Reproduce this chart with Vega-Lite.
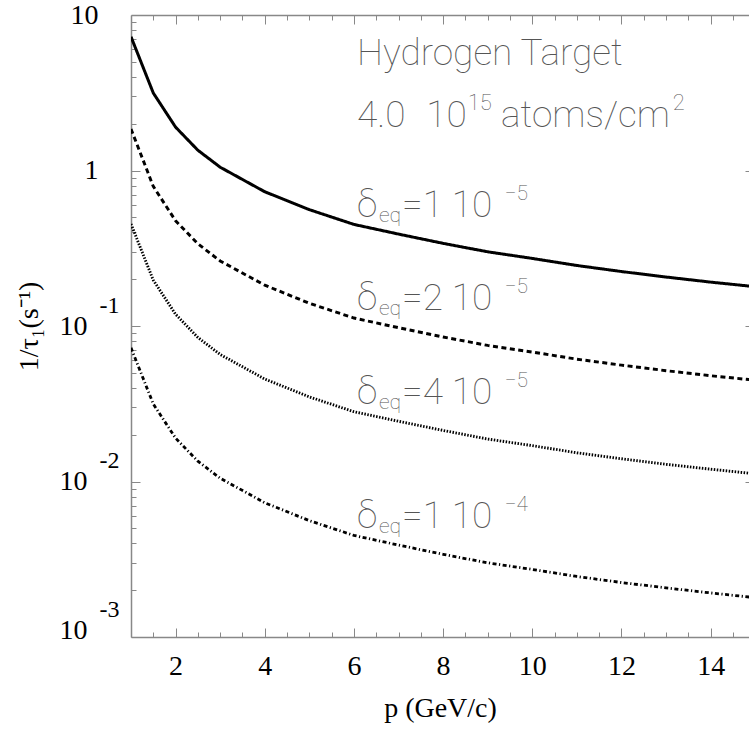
{
  "$schema": "https://vega.github.io/schema/vega-lite/v6.json",
  "width": 618,
  "height": 622,
  "autosize": "none",
  "padding": {"left": 131, "top": 15, "right": 0, "bottom": 95},
  "background": "white",
  "config": {
    "view": {"stroke": null},
    "axis": {
      "grid": false,
      "domainColor": "#888",
      "domainWidth": 1.5,
      "tickColor": "#888",
      "tickWidth": 1,
      "labelFont": "Liberation Serif",
      "titleFont": "Liberation Serif",
      "labelColor": "black",
      "titleColor": "black",
      "labelFontSize": 28,
      "titleFontSize": 28,
      "titleFontWeight": "normal",
      "labelOverlap": false,
      "labelFlush": false,
      "labelBound": false
    }
  },
  "datasets": {
    "curves": [
      {"p": 1, "d": "1e-5", "v": 7.25}, {"p": 1.5, "d": "1e-5", "v": 3.15}, {"p": 2, "d": "1e-5", "v": 1.9},
      {"p": 2.5, "d": "1e-5", "v": 1.35}, {"p": 3, "d": "1e-5", "v": 1.05}, {"p": 4, "d": "1e-5", "v": 0.73},
      {"p": 5, "d": "1e-5", "v": 0.56}, {"p": 6, "d": "1e-5", "v": 0.45}, {"p": 7, "d": "1e-5", "v": 0.39},
      {"p": 8, "d": "1e-5", "v": 0.34}, {"p": 9, "d": "1e-5", "v": 0.3}, {"p": 10, "d": "1e-5", "v": 0.272},
      {"p": 11, "d": "1e-5", "v": 0.245}, {"p": 12, "d": "1e-5", "v": 0.224}, {"p": 13, "d": "1e-5", "v": 0.2065},
      {"p": 14, "d": "1e-5", "v": 0.1915}, {"p": 15, "d": "1e-5", "v": 0.179},

      {"p": 1, "d": "2e-5", "v": 1.85}, {"p": 1.5, "d": "2e-5", "v": 0.79}, {"p": 2, "d": "2e-5", "v": 0.475},
      {"p": 2.5, "d": "2e-5", "v": 0.338}, {"p": 3, "d": "2e-5", "v": 0.262}, {"p": 4, "d": "2e-5", "v": 0.183},
      {"p": 5, "d": "2e-5", "v": 0.14}, {"p": 6, "d": "2e-5", "v": 0.1125}, {"p": 7, "d": "2e-5", "v": 0.0975},
      {"p": 8, "d": "2e-5", "v": 0.085}, {"p": 9, "d": "2e-5", "v": 0.075}, {"p": 10, "d": "2e-5", "v": 0.068},
      {"p": 11, "d": "2e-5", "v": 0.0612}, {"p": 12, "d": "2e-5", "v": 0.056}, {"p": 13, "d": "2e-5", "v": 0.0516},
      {"p": 14, "d": "2e-5", "v": 0.0479}, {"p": 15, "d": "2e-5", "v": 0.0448},

      {"p": 1, "d": "4e-5", "v": 0.453}, {"p": 1.5, "d": "4e-5", "v": 0.197}, {"p": 2, "d": "4e-5", "v": 0.119},
      {"p": 2.5, "d": "4e-5", "v": 0.0844}, {"p": 3, "d": "4e-5", "v": 0.0656}, {"p": 4, "d": "4e-5", "v": 0.0456},
      {"p": 5, "d": "4e-5", "v": 0.035}, {"p": 6, "d": "4e-5", "v": 0.0281}, {"p": 7, "d": "4e-5", "v": 0.0244},
      {"p": 8, "d": "4e-5", "v": 0.0213}, {"p": 9, "d": "4e-5", "v": 0.01875}, {"p": 10, "d": "4e-5", "v": 0.017},
      {"p": 11, "d": "4e-5", "v": 0.0153}, {"p": 12, "d": "4e-5", "v": 0.014}, {"p": 13, "d": "4e-5", "v": 0.0129},
      {"p": 14, "d": "4e-5", "v": 0.012}, {"p": 15, "d": "4e-5", "v": 0.0112},

      {"p": 1, "d": "1e-4", "v": 0.0725}, {"p": 1.5, "d": "1e-4", "v": 0.0315}, {"p": 2, "d": "1e-4", "v": 0.019},
      {"p": 2.5, "d": "1e-4", "v": 0.0135}, {"p": 3, "d": "1e-4", "v": 0.0105}, {"p": 4, "d": "1e-4", "v": 0.0073},
      {"p": 5, "d": "1e-4", "v": 0.0056}, {"p": 6, "d": "1e-4", "v": 0.0045}, {"p": 7, "d": "1e-4", "v": 0.0039},
      {"p": 8, "d": "1e-4", "v": 0.0034}, {"p": 9, "d": "1e-4", "v": 0.003}, {"p": 10, "d": "1e-4", "v": 0.00272},
      {"p": 11, "d": "1e-4", "v": 0.00245}, {"p": 12, "d": "1e-4", "v": 0.00224}, {"p": 13, "d": "1e-4", "v": 0.00207},
      {"p": 14, "d": "1e-4", "v": 0.00192}, {"p": 15, "d": "1e-4", "v": 0.00179}
    ],
    "heading": [
      {"p": 6.07, "v": 4.77, "txt": "Hydrogen Target"},
      {"p": 6.07, "v": 1.905, "txt": "4.0"},
      {"p": 7.62, "v": 1.905, "txt": "10"},
      {"p": 9.3, "v": 1.905, "txt": "atoms/cm"}
    ],
    "headingScripts": [
      {"p": 8.55, "v": 2.449, "txt": "15"},
      {"p": 13.15, "v": 2.449, "txt": "2"}
    ],
    "deltas": [
      {"p": 6.07, "v": 0.502, "txt": "δ"}, {"p": 7.08, "v": 0.502, "txt": "=1 10"},
      {"p": 6.07, "v": 0.1267, "txt": "δ"}, {"p": 7.08, "v": 0.1267, "txt": "=2 10"},
      {"p": 6.07, "v": 0.0315, "txt": "δ"}, {"p": 7.08, "v": 0.0315, "txt": "=4 10"},
      {"p": 6.07, "v": 0.00502, "txt": "δ"}, {"p": 7.08, "v": 0.00502, "txt": "=1 10"}
    ],
    "deltaScripts": [
      {"p": 6.56, "v": 0.4665, "txt": "eq"}, {"p": 9.38, "v": 0.646, "txt": "−5"},
      {"p": 6.56, "v": 0.1178, "txt": "eq"}, {"p": 9.38, "v": 0.1631, "txt": "−5"},
      {"p": 6.56, "v": 0.02925, "txt": "eq"}, {"p": 9.38, "v": 0.04055, "txt": "−5"},
      {"p": 6.56, "v": 0.004667, "txt": "eq"}, {"p": 9.38, "v": 0.00646, "txt": "−4"}
    ]
  },
  "resolve": {"axis": {"x": "independent", "y": "independent"}},
  "layer": [
    {
      "data": {"name": "curves"},
      "mark": {"type": "line", "clip": true, "color": "black"},
      "encoding": {
        "x": {
          "field": "p", "type": "quantitative",
          "scale": {"domain": [1, 14.86], "nice": false, "zero": false},
          "axis": {
            "orient": "bottom",
            "values": [2, 4, 6, 8, 10, 12, 14],
            "tickSize": -9,
            "labelPadding": 24,
            "title": "p (GeV/c)",
            "titlePadding": 14
          }
        },
        "y": {
          "field": "v", "type": "quantitative",
          "scale": {"type": "log", "domain": [0.001, 10], "nice": false},
          "axis": {
            "orient": "left",
            "values": [0.001, 0.01, 0.1, 1, 10],
            "tickSize": -9,
            "labelExpr": "datum.value > 0.5 && datum.value < 5 ? '1' : '10'",
            "labelBaseline": "middle",
            "labelPadding": {"condition": {"test": "datum.value < 0.5", "value": 53}, "value": 42},
            "labelOffset": {"condition": {"test": "datum.value < 0.005", "value": -7}, "value": 0},
            "title": "1/τ₁(s⁻¹)",
            "titlePadding": 16
          }
        },
        "strokeDash": {
          "field": "d", "type": "nominal", "legend": null,
          "scale": {"domain": ["1e-5", "2e-5", "4e-5", "1e-4"], "range": [[1, 0], [5, 3.5], [1.5, 1.5], [4, 2.5, 1.2, 2.5]]}
        },
        "strokeWidth": {
          "field": "d", "type": "ordinal", "legend": null,
          "scale": {"domain": ["1e-5", "2e-5", "4e-5", "1e-4"], "range": [3, 2.8, 2, 2.5]}
        }
      }
    },
    {
      "data": {"name": "heading"},
      "mark": {"type": "text", "align": "left", "baseline": "alphabetic", "font": "Roboto", "fontWeight": 100, "fontSize": 37, "color": "#555"},
      "encoding": {
        "x": {
          "field": "p", "type": "quantitative",
          "scale": {"domain": [1, 14.86], "nice": false, "zero": false},
          "axis": {
            "orient": "bottom",
            "values": [1.5, 2.5, 3, 3.5, 4.5, 5, 5.5, 6.5, 7, 7.5, 8.5, 9, 9.5, 10.5, 11, 11.5, 12.5, 13, 13.5, 14.5],
            "tickSize": -5, "labels": false, "domain": false, "title": null
          }
        },
        "y": {
          "field": "v", "type": "quantitative",
          "scale": {"type": "log", "domain": [0.001, 10], "nice": false},
          "axis": {
            "orient": "left",
            "values": [0.002, 0.003, 0.004, 0.005, 0.006, 0.007, 0.008, 0.009,
                       0.02, 0.03, 0.04, 0.05, 0.06, 0.07, 0.08, 0.09,
                       0.2, 0.3, 0.4, 0.5, 0.6, 0.7, 0.8, 0.9,
                       2, 3, 4, 5, 6, 7, 8, 9],
            "tickSize": -5, "labels": false, "domain": false, "title": null
          }
        },
        "text": {"field": "txt"}
      }
    },
    {
      "data": {"name": "headingScripts"},
      "mark": {"type": "text", "align": "left", "baseline": "alphabetic", "font": "Roboto", "fontWeight": 100, "fontSize": 22, "color": "#555"},
      "encoding": {
        "x": {
          "field": "p", "type": "quantitative",
          "scale": {"domain": [1, 14.86], "nice": false, "zero": false},
          "axis": {
            "orient": "top",
            "values": [2, 4, 6, 8, 10, 12, 14],
            "tickSize": -9, "labels": false, "title": null
          }
        },
        "y": {
          "field": "v", "type": "quantitative",
          "scale": {"type": "log", "domain": [0.001, 10], "nice": false},
          "axis": {
            "orient": "left",
            "values": [0.001, 0.01, 0.1],
            "ticks": false, "domain": false, "title": null,
            "labelExpr": "'-' + round(-log(datum.value) / LN10)",
            "labelAlign": "left",
            "labelBaseline": "middle",
            "labelPadding": 32,
            "labelOffset": {"condition": {"test": "datum.value < 0.005", "value": -28}, "value": -21},
            "labelFontSize": 24
          }
        },
        "text": {"field": "txt"}
      }
    },
    {
      "data": {"name": "deltaScripts"},
      "mark": {"type": "text", "align": "left", "baseline": "alphabetic", "font": "Roboto", "fontWeight": 100, "fontSize": 21, "color": "#555"},
      "encoding": {
        "x": {
          "field": "p", "type": "quantitative",
          "scale": {"domain": [1, 14.86], "nice": false, "zero": false},
          "axis": {
            "orient": "top",
            "values": [1.5, 2.5, 3, 3.5, 4.5, 5, 5.5, 6.5, 7, 7.5, 8.5, 9, 9.5, 10.5, 11, 11.5, 12.5, 13, 13.5, 14.5],
            "tickSize": -5, "labels": false, "domain": false, "title": null
          }
        },
        "y": {
          "field": "v", "type": "quantitative",
          "scale": {"type": "log", "domain": [0.001, 10], "nice": false},
          "axis": {
            "orient": "right",
            "values": [0.001, 0.01, 0.1, 1, 10],
            "tickSize": -4, "labels": false, "domain": false, "title": null
          }
        },
        "text": {"field": "txt"}
      }
    },
    {
      "data": {"name": "deltas"},
      "mark": {"type": "text", "align": "left", "baseline": "alphabetic", "font": "Roboto", "fontWeight": 100, "fontSize": 37, "color": "#555"},
      "encoding": {
        "x": {
          "field": "p", "type": "quantitative",
          "scale": {"domain": [1, 14.86], "nice": false, "zero": false},
          "axis": null
        },
        "y": {
          "field": "v", "type": "quantitative",
          "scale": {"type": "log", "domain": [0.001, 10], "nice": false},
          "axis": null
        },
        "text": {"field": "txt"}
      }
    }
  ]
}
